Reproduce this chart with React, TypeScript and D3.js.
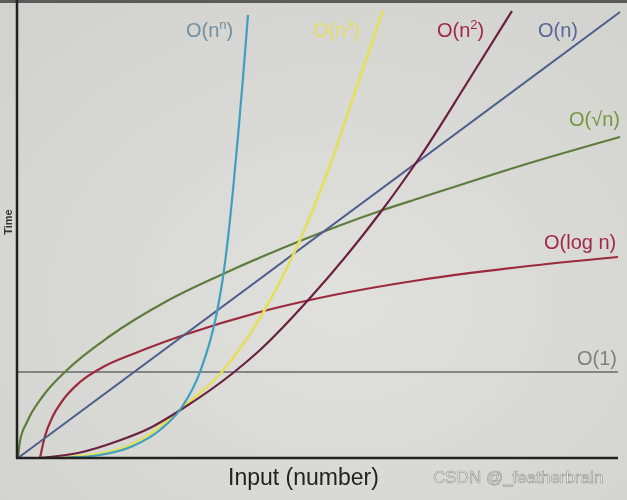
import React from "react";
import * as d3 from "d3";

// Curves: [input, time] in chart units
const constantSeries: [number, number][] = [[0, 86], [600, 86]];
const logSeries: [number, number][] = [
  [22, 0], [27, 22], [34, 40], [45, 58], [62, 76], [85, 91], [120, 106],
  [169, 124], [242, 146], [292, 158], [402, 178], [502, 191], [600, 201],
];
const sqrtSeries: [number, number][] = [
  [0, 0], [2, 17], [9, 36], [25, 62], [49, 88], [92, 122], [149, 157],
  [205, 184], [282, 217], [362, 247], [402, 260], [502, 292], [602, 321],
];
const linearSeries: [number, number][] = [[0, 0], [602, 446]];
const quadraticSeries: [number, number][] = [
  [22, 0], [60, 5], [100, 17], [132, 30], [164, 49], [215, 85], [242, 108],
  [292, 160], [362, 245], [402, 301], [449, 375], [494, 447],
];
const cubicSeries: [number, number][] = [
  [22, 0], [62, 2], [102, 9], [132, 24], [165, 51], [202, 84], [242, 140],
  [282, 218], [315, 301], [339, 372], [365, 448],
];
const powerSeries: [number, number][] = [
  [30, 0], [52, 0.5], [82, 3], [115, 12], [142, 28], [164, 51], [182, 86],
  [199, 146], [205, 181], [210, 220], [215, 268], [220, 322], [225, 380],
  [230, 443],
];

const labelBase = ["O(", "O(", "O(", "O(", "O(", "O(log n)", "O(1)"];
const labelSup = ["n", "3", "2", "", "", "", ""];
const xAxisTitle = "Input (number)";
const yAxisTitle = "Time";
const watermark = "CSDN @_featherbrain";

const W = 627;
const H = 500;

export default function App() {
  const x = d3.scaleLinear().domain([0, 600]).range([18, 618]);
  const y = d3.scaleLinear().domain([0, 460]).range([458, -2]);
  const line = d3
    .line<[number, number]>()
    .x((d) => x(d[0]))
    .y((d) => y(d[1]))
    .curve(d3.curveMonotoneX);

  const curves = [
    { data: constantSeries, color: "#858585", w: 2 },
    { data: logSeries, color: "#9c2a3c", w: 2.2 },
    { data: sqrtSeries, color: "#5e7d3c", w: 2.2 },
    { data: linearSeries, color: "#4d5d8e", w: 2 },
    { data: cubicSeries, color: "#e4e05c", w: 2.6 },
    { data: quadraticSeries, color: "#6a2040", w: 2.2 },
    { data: powerSeries, color: "#3f9fc0", w: 2.2 },
  ];

  const font = "'Liberation Sans', Arial, sans-serif";
  const lbl = [
    { x: 186, y: 37, c: "#7190a2" },
    { x: 313, y: 37, c: "#e2de62" },
    { x: 437, y: 37, c: "#a2284a" },
    { x: 538, y: 37, c: "#57679a" },
    { x: 569, y: 126, c: "#73993e" },
    { x: 544, y: 249, c: "#a2284a" },
    { x: 577, y: 365, c: "#808080" },
  ];

  return (
    <svg
      width={W}
      height={H}
      style={{ position: "fixed", left: 0, top: 0, display: "block" }}
    >
      <defs>
        <radialGradient id="bg" cx="55%" cy="60%" r="75%">
          <stop offset="0%" stopColor="#e0e0dc" />
          <stop offset="100%" stopColor="#d2d2ce" />
        </radialGradient>
      </defs>
      <rect width={W} height={H} fill="url(#bg)" />
      <rect width={W} height={3} fill="#5a5a5a" />

      {curves.map((c, i) => (
        <path
          key={i}
          d={line(c.data) || ""}
          fill="none"
          stroke={c.color}
          strokeWidth={c.w}
        />
      ))}

      {/* axes */}
      <line x1={x(0) - 1} x2={x(0) - 1} y1={y(460)} y2={y(0)} stroke="#222" strokeWidth={2.5} />
      <line x1={x(0) - 2} x2={x(600)} y1={y(0)} y2={y(0)} stroke="#222" strokeWidth={2.5} />

      {labelBase.map((t, i) => {
        const sup = labelSup[i];
        const closing = i < 5;
        return (
          <text
            key={i}
            x={lbl[i].x}
            y={lbl[i].y}
            fill={lbl[i].c}
            fontSize={20}
            fontFamily={font}
          >
            {t}
            {i === 3 ? "n" : null}
            {i === 4 ? "\u221An" : null}
            {i < 3 ? "n" : null}
            {sup ? (
              <tspan fontSize={13} dy={-8}>
                {sup}
              </tspan>
            ) : null}
            {closing ? <tspan dy={sup ? 8 : 0}>)</tspan> : null}
          </text>
        );
      })}

      <text
        transform={`translate(12, 222) rotate(-90)`}
        textAnchor="middle"
        fontSize={11}
        fontWeight="bold"
        fill="#333"
        fontFamily={font}
      >
        {yAxisTitle}
      </text>

      <text x={228} y={485} fontSize={23} fill="#222" fontFamily={font}>
        {xAxisTitle}
      </text>

      <text
        x={433}
        y={483}
        fontSize={17}
        fill="#f2f2f2"
        stroke="#8e8e8e"
        strokeWidth={0.6}
        fontFamily={font}
      >
        {watermark}
      </text>
    </svg>
  );
}
